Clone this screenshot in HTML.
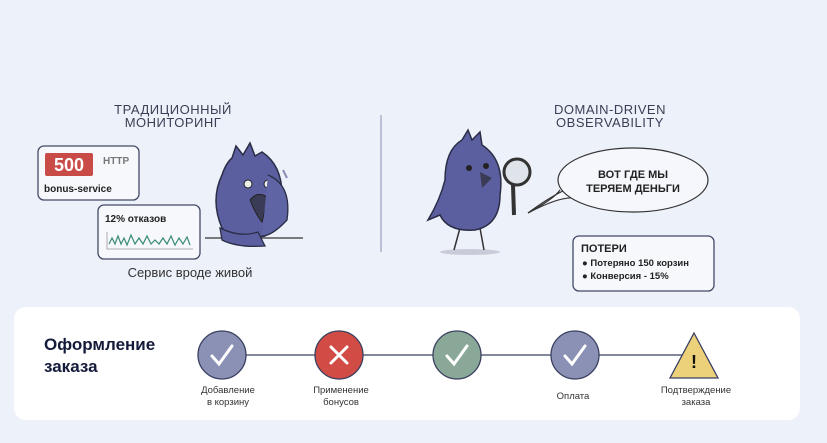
<!DOCTYPE html>
<html><head><meta charset="utf-8"><style>
body{margin:0;width:827px;height:443px;background:#edf1fa;overflow:hidden}
svg{display:block}
text{font-family:"Liberation Sans","DejaVu Sans",sans-serif}
</style></head><body>
<svg width="827" height="443" viewBox="0 0 827 443">
<rect width="827" height="443" fill="#edf1fa"/>
<!-- left title -->
<text x="173" y="114" font-size="13" fill="#3a3f55" text-anchor="middle" letter-spacing="0.5">ТРАДИЦИОННЫЙ</text>
<text x="173" y="127" font-size="13" fill="#3a3f55" text-anchor="middle" letter-spacing="0.5">МОНИТОРИНГ</text>
<rect x="38" y="146" width="101" height="54" rx="6" fill="#f7f8fc" stroke="#444a66" stroke-width="1.3"/>
<rect x="45" y="153" width="48" height="23" rx="2" fill="#c94b48"/>
<text x="69" y="171" font-size="18" fill="#fff" text-anchor="middle" font-weight="bold">500</text>
<text x="103" y="164" font-size="10" fill="#777" font-weight="bold">HTTP</text>
<text x="44" y="192" font-size="10" fill="#222" font-weight="bold">bonus-service</text>
<rect x="98" y="205" width="102" height="54" rx="6" fill="#f7f8fc" stroke="#444a66" stroke-width="1.3"/>
<text x="105" y="222" font-size="10" fill="#222" font-weight="bold">12% отказов</text>
<polyline points="107,232 107,249 193,249" fill="none" stroke="#999" stroke-width="0.8"/>
<polyline points="109,244 112,238 115,244 118,236 121,244 124,238 127,245 131,235 135,244 139,238 143,244 147,236 151,244 155,240 159,244 163,238 167,244 171,236 175,245 179,238 183,244 187,237 190,245" fill="none" stroke="#3a8a78" stroke-width="1.2"/>
<text x="190" y="277" font-size="13" fill="#333" text-anchor="middle">Сервис вроде живой</text>
<!-- sad bird -->
<line x1="205" y1="238" x2="303" y2="238" stroke="#333" stroke-width="1.2"/>
<path d="M232 158 L236 146 L243 155 L250 143 L255 156 L262 152 Q282 165 282 195 Q286 225 265 236 Q235 242 222 228 Q210 200 222 175 Q226 163 232 158Z" fill="#5b5f9f" stroke="#2a2d45" stroke-width="1.5"/>
<path d="M220 228 Q240 238 258 232 L265 246 Q238 248 222 240Z" fill="#5b5f9f" stroke="#2a2d45" stroke-width="1.3"/>
<path d="M250 200 Q258 190 268 198 L262 222 Q256 215 250 200Z" fill="#3a3b55" stroke="#222" stroke-width="1"/>
<circle cx="248" cy="184" r="4" fill="#eee" stroke="#222"/><circle cx="268" cy="184" r="4" fill="#eee" stroke="#222"/>
<path d="M268 175 Q292 185 287 220 Q272 236 262 236" fill="#5f64a5" stroke="#2a2d45" stroke-width="1.3"/>
<path d="M283 170 L287 178" stroke="#8a90b5" stroke-width="2"/>
<!-- divider -->
<line x1="381" y1="115" x2="381" y2="252" stroke="#8a90b0" stroke-width="1"/>
<!-- right title -->
<text x="610" y="114" font-size="13" fill="#3a3f55" text-anchor="middle" letter-spacing="0.5">DOMAIN-DRIVEN</text>
<text x="610" y="127" font-size="13" fill="#3a3f55" text-anchor="middle" letter-spacing="0.5">OBSERVABILITY</text>
<!-- detective bird -->
<ellipse cx="470" cy="252" rx="30" ry="3" fill="#c9ccd8"/>
<path d="M460 228 L454 250 M480 228 L484 250" stroke="#333" stroke-width="1.5"/>
<path d="M462 140 L468 130 L472 140 L480 132 L482 145 Q505 160 500 195 Q500 225 475 230 Q448 232 440 215 L428 220 Q440 200 445 180 Q445 150 462 140Z" fill="#5b5f9f" stroke="#2a2d45" stroke-width="1.5"/>
<path d="M480 172 L492 178 L482 188Z" fill="#3a3b55"/>
<circle cx="469" cy="168" r="3" fill="#222"/><circle cx="486" cy="166" r="3" fill="#222"/>
<line x1="513" y1="185" x2="514" y2="215" stroke="#333" stroke-width="4"/>
<circle cx="517" cy="172" r="13" fill="#dfe3ea" stroke="#333" stroke-width="3"/>
<!-- bubble -->
<path d="M575 198 Q560 196 528 213 Q548 198 565 190Z" fill="#f5f7fc" stroke="#333" stroke-width="1.2"/>
<ellipse cx="633" cy="180" rx="75" ry="32" fill="#f5f7fc" stroke="#333" stroke-width="1.2"/>
<path d="M560 190 Q555 198 528 213" fill="none" stroke="#333" stroke-width="1.2"/>
<text x="633" y="178" font-size="11" font-weight="bold" fill="#222" text-anchor="middle">ВОТ ГДЕ МЫ</text>
<text x="633" y="192" font-size="11" font-weight="bold" fill="#222" text-anchor="middle">ТЕРЯЕМ ДЕНЬГИ</text>
<rect x="573" y="236" width="141" height="55" rx="6" fill="#f7f8fc" stroke="#444a66" stroke-width="1.3"/>
<text x="581" y="252" font-size="11" font-weight="bold" fill="#222">ПОТЕРИ</text>
<text x="582" y="266" font-size="9.5" font-weight="bold" fill="#222">●  Потеряно 150 корзин</text>
<text x="582" y="279" font-size="9.5" font-weight="bold" fill="#222">●  Конверсия - 15%</text>
<!-- bottom card -->
<rect x="14" y="307" width="786" height="113" rx="12" fill="#fff"/>
<text x="44" y="350" font-size="17" font-weight="bold" fill="#141a3a">Оформление</text>
<text x="44" y="372" font-size="17" font-weight="bold" fill="#141a3a">заказа</text>
<line x1="222" y1="355" x2="694" y2="355" stroke="#3a4060" stroke-width="1.3"/>
<g stroke="#3a4060" stroke-width="1.3">
<circle cx="222" cy="355" r="24" fill="#8b90b5"/>
<circle cx="339" cy="355" r="24" fill="#d04c44"/>
<circle cx="457" cy="355" r="24" fill="#8aa898"/>
<circle cx="575" cy="355" r="24" fill="#8b90b5"/>
<path d="M694 333 L718 378 L670 378Z" fill="#ecd07a"/>
</g>
<g stroke="#fff" stroke-width="3" fill="none" stroke-linecap="round">
<path d="M212 356 L219 364 L232 346"/>
<path d="M447 356 L454 364 L467 346"/>
<path d="M565 356 L572 364 L585 346"/>
<path d="M331 347 L347 363 M347 347 L331 363"/>
</g>
<text x="694" y="368" font-size="18" font-weight="bold" fill="#111" text-anchor="middle">!</text>
<g font-size="9.5" fill="#333" text-anchor="middle">
<text x="228" y="393">Добавление</text><text x="228" y="405">в корзину</text>
<text x="341" y="393">Применение</text><text x="341" y="405">бонусов</text>
<text x="573" y="399">Оплата</text>
<text x="696" y="393">Подтверждение</text><text x="696" y="405">заказа</text>
</g>
</svg>
</body></html>
